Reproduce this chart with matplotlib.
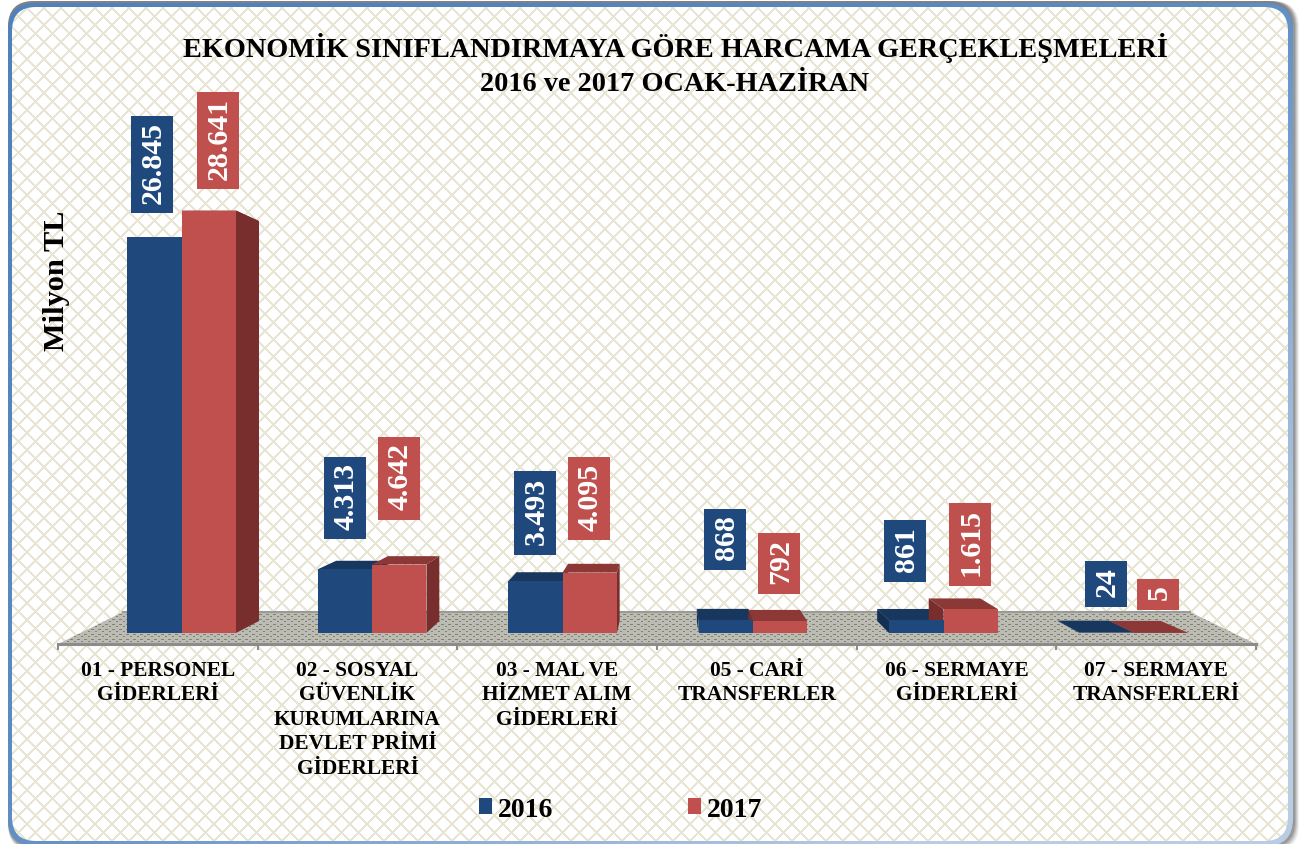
import numpy as np
import matplotlib as mpl
mpl.use('Agg')
import matplotlib.pyplot as plt
from matplotlib.patches import FancyBboxPatch, Polygon, Rectangle
from matplotlib.colors import LinearSegmentedColormap

plt.rcParams['font.family'] = ['Liberation Serif', 'DejaVu Serif']
plt.rcParams['font.weight'] = 'bold'

# data
categories = ['01 - PERSONEL\nGİDERLERİ',
              '02 - SOSYAL\nGÜVENLİK\nKURUMLARINA\nDEVLET PRİMİ\nGİDERLERİ',
              '03 - MAL VE\nHİZMET ALIM\nGİDERLERİ',
              '05 - CARİ\nTRANSFERLER',
              '06 - SERMAYE\nGİDERLERİ',
              '07 - SERMAYE\nTRANSFERLERİ']
values_2016 = [26845, 4313, 3493, 868, 861, 24]
values_2017 = [28641, 4642, 4095, 792, 1615, 5]
title_text = 'EKONOMİK SINIFLANDIRMAYA GÖRE HARCAMA GERÇEKLEŞMELERİ\n2016 ve 2017 OCAK-HAZİRAN'

# hand placed label boxes, (left, top, bottom) in pixels of the picture
boxes_2016 = [(131, 117, 214), (324, 458, 540), (514, 472, 556), (704, 510, 571), (884, 521, 583), (1085, 562, 608)]
boxes_2017 = [(197, 93, 190), (378, 438, 521), (568, 458, 541), (758, 534, 595), (949, 504, 587), (1137, 580, 611)]

W, H = 1306, 845
BLUE, RED = '#1f497d', '#c0504d'
BLUE_TOP, RED_TOP = '#17375e', '#8c3836'
BLUE_SIDE, RED_SIDE = '#132f52', '#772e2c'


def px_axes(x0, y0, x1, y1):
    # axes from picture pixels (y goes down)
    return fig.add_axes([x0 / W, 1 - y1 / H, (x1 - x0) / W, (y1 - y0) / H])


def round_box(x0, y0, x1, y1, r, **kw):
    return FancyBboxPatch((x0 + r, y0 + r), x1 - x0 - 2 * r, y1 - y0 - 2 * r,
                          boxstyle='round,pad=%g,rounding_size=%g' % (r, r), **kw)


fig = plt.figure(figsize=(W / 100, H / 100), dpi=100, facecolor='white')

# background: shadow, frame, lattice
bg = fig.add_axes([0, 0, 1, 1])
bg.set_axis_off()
for grow, alpha in [(6, 0.08), (5, 0.1), (4, 0.14), (3, 0.18), (2, 0.2), (0, 0.25)]:
    bg.add_patch(round_box(8, 2, 1293 + grow, 846 + grow, 26, fc='#404040', ec='none', alpha=alpha, zorder=0))

yy, xx = np.mgrid[0:H, 0:W]
t = (xx / W + yy / H) / 2
frame_cmap = LinearSegmentedColormap.from_list('frame', ['#4f81bd', '#5b8cc4', '#b8cce4'])
frame_im = bg.imshow(t, cmap=frame_cmap, extent=(0, W, H, 0), aspect='auto', vmin=0.1, vmax=0.85, zorder=1)
frame_im.set_clip_path(round_box(8, 4, 1293, 847, 27, transform=bg.transData))

P = 17
lat = ((xx + yy) % P < 3) | ((xx - yy) % P < 3)
lattice = np.ones((H, W, 3))
lattice[lat] = np.array([232, 229, 213]) / 255
lat_im = bg.imshow(lattice, extent=(0, W, H, 0), aspect='auto', interpolation='bilinear', zorder=2)
lat_im.set_clip_path(round_box(12, 8, 1288, 842, 24, transform=bg.transData))

# floor
floor_tex = np.ones((H, W, 3)) * np.array([188, 188, 182]) / 255
dots = (yy % 5 == 0) & (xx % 7 < 3) | (yy % 5 == 2) & ((xx + 3) % 7 < 2)
floor_tex[dots] = np.array([135, 130, 100]) / 255
floor_im = bg.imshow(floor_tex, extent=(0, W, H, 0), aspect='auto', interpolation='bilinear', zorder=3)
floor_im.set_clip_path(Polygon([(58, 645), (1256, 645), (1190, 613), (123, 613)], transform=bg.transData))
bg.plot([123, 1190], [613, 613], color='#9a9a96', lw=1.5, zorder=4)
bg.set_xlim(0, W)
bg.set_ylim(H, 0)

# category axis, the front edge of the floor
ax_cat = px_axes(58, 600, 1256, 645)
ax_cat.patch.set_alpha(0)
for s in ['top', 'left', 'right']:
    ax_cat.spines[s].set_visible(False)
ax_cat.spines['bottom'].set_color('#8c8c8c')
ax_cat.spines['bottom'].set_linewidth(2.2)
ax_cat.set_xlim(0, len(categories))
ax_cat.set_yticks([])
ax_cat.set_xticks(np.arange(len(categories) + 1))
ax_cat.set_xticklabels([])
ax_cat.tick_params(axis='x', which='major', length=4, width=1.5, color='#8c8c8c')
ax_cat.set_xticks(np.arange(len(categories)) + 0.5, minor=True)
ax_cat.set_xticklabels(categories, minor=True, fontsize=15.4, fontweight='bold', linespacing=1.3)
ax_cat.tick_params(axis='x', which='minor', length=0, pad=11.5)

# bars, front plane
ax = px_axes(86.25, 191.5, 1229.25, 634)
ax.patch.set_alpha(0)
ax.set_axis_off()
ax.set_xlim(-0.5, 5.5)
ax.set_ylim(0, 30000)

x = np.arange(len(categories))
bw = 0.286
depth = 0.0534
vx, vy = 2.549, 15254   # vanishing point in data units


def back(px, py):
    return px + depth * (vx - px), py + depth * (vy - py)


def box_faces(left, value, top_color, side_color, z):
    right = left + bw
    ax.add_patch(Polygon([(left, value), (right, value), back(right, value), back(left, value)],
                         fc=top_color, ec='none', zorder=z, clip_on=False))
    side = right if right < vx else left
    if left < vx < right:
        return
    ax.add_patch(Polygon([(side, 0), (side, value), back(side, value), back(side, 0)],
                         fc=side_color, ec='none', zorder=z, clip_on=False))


for i in x:
    box_faces(i - bw, values_2016[i], BLUE_TOP, BLUE_SIDE, 2)
    box_faces(i, values_2017[i], RED_TOP, RED_SIDE, 3)

bars_2016 = ax.bar(x - bw / 2, values_2016, bw, color=BLUE, zorder=4, label='2016')
bars_2017 = ax.bar(x + bw / 2, values_2017, bw, color=RED, zorder=5, label='2017')


def fmt(v):
    return '{:,}'.format(v).replace(',', '.')


for vals, boxes, col in [(values_2016, boxes_2016, BLUE), (values_2017, boxes_2017, RED)]:
    for v, (left, top, bottom) in zip(vals, boxes):
        ax.add_patch(Rectangle((left, top), 42, bottom - top, fc=col, ec='none', zorder=6,
                               transform=bg.transData, clip_on=False))
        ax.text(left + 22.5, (top + bottom) / 2 - 2.5, fmt(v), transform=bg.transData, rotation=90,
                ha='center', va='center', color='white', fontsize=21.5, fontweight='bold',
                zorder=7, clip_on=False)

fig.text(675 / W, 1 - 65 / H, title_text, ha='center', va='center', fontsize=20.3,
         fontweight='bold', color='black', linespacing=1.46)
fig.text(57 / W, 1 - 281 / H, 'Milyon TL', rotation=90, ha='center', va='center',
         fontsize=21.9, fontweight='bold', color='black')

fig.legend(handles=[bars_2016, bars_2017], loc='center', bbox_to_anchor=(620.5 / W, 1 - 810.5 / H),
           ncol=2, frameon=False, prop={'size': 20, 'weight': 'bold'},
           handlelength=0.48, handleheight=0.48, handletextpad=0.2, columnspacing=4.86)

fig.savefig('out.png', dpi=100)
